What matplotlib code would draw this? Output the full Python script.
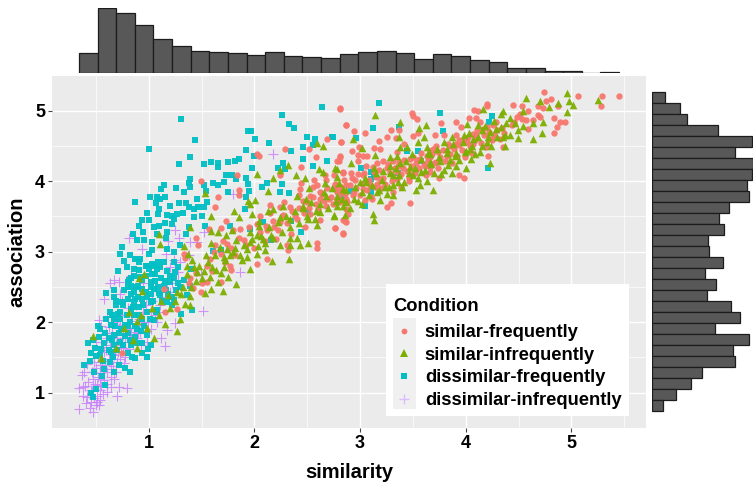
#!/usr/bin/env python3
"""Similarity vs association scatter with marginal histograms."""

import numpy as np
import matplotlib
matplotlib.use("Agg")
import matplotlib.pyplot as plt
from matplotlib.lines import Line2D
from matplotlib.patches import Rectangle

plt.rcParams["font.family"] = ["Liberation Sans", "DejaVu Sans"]

# ── Data ────────────────────────────────────────────────────────
teal_pts = [
    (1.31,4.88),(1.00,4.45),(1.44,4.58),(2.26,4.94),(2.64,5.05),(2.33,4.81),(2.37,4.75),(1.94,4.71),
    (1.97,4.71),(2.01,4.59),(2.14,4.54),(1.92,4.44),(2.00,4.35),(2.35,4.43),(2.50,4.62),(2.57,4.60),
    (2.73,4.62),(2.55,4.51),(2.46,4.48),(2.46,4.31),(2.69,4.29),(2.55,4.21),(1.39,4.34),(1.29,4.24),
    (1.52,4.24),(1.59,4.27),(1.66,4.26),(1.66,4.20),(1.75,4.27),(1.82,4.28),(1.85,4.31),(1.98,4.19),
    (2.27,4.26),(2.22,4.19),(2.29,4.17),(1.39,4.03),(1.14,3.94),(1.12,3.89),(1.26,3.90),(1.38,3.98),
    (1.39,3.91),(1.33,3.84),(1.52,3.94),(1.54,3.86),(1.61,3.98),(1.66,3.95),(1.71,3.99),(1.73,4.09),
    (1.79,4.08),(1.83,4.03),(1.92,4.05),(1.94,3.96),(2.12,3.98),(2.07,3.91),(2.26,3.96),(2.24,3.84),
    (2.33,3.83),(1.95,3.86),(1.75,3.84),(1.92,3.78),(0.87,3.71),(1.01,3.78),(1.08,3.78),(1.15,3.78),
    (1.07,3.69),(1.11,3.75),(1.46,3.75),(1.55,3.70),(1.29,3.69),(1.35,3.69),(1.38,3.63),(1.43,3.60),
    (1.52,3.63),(1.47,3.64),(1.10,3.60),(1.09,3.53),(1.17,3.52),(1.22,3.50),(1.27,3.53),(1.24,3.46),
    (1.43,3.49),(1.50,3.50),(0.94,3.45),(1.00,3.45),(0.91,3.37),(1.22,3.39),(1.10,3.37),(1.15,3.41),
    (1.38,3.35),(1.53,3.37),(0.95,3.28),(0.85,3.25),(1.08,3.25),(1.17,3.28),(0.89,3.17),(0.96,3.17),
    (1.03,3.14),(1.16,3.19),(0.75,3.07),(0.73,2.97),(1.03,3.02),(1.00,2.97),(1.17,3.04),(1.24,2.99),
    (1.61,3.01),(1.68,3.02),(1.77,3.37),(1.91,3.60),(1.96,3.32),(2.08,3.42),(2.16,3.16),(2.35,3.44),
    (2.44,3.28),(2.51,3.56),(0.82,2.95),(0.87,2.90),(0.91,2.85),(0.77,2.87),(0.79,2.78),(0.71,2.72),
    (0.97,2.80),(1.03,2.83),(1.09,2.85),(1.11,2.78),(1.24,2.85),(1.25,2.71),(1.06,2.69),(0.91,2.74),
    (0.83,2.62),(0.80,2.57),(0.90,2.52),(0.67,2.45),(0.60,2.42),(0.67,2.36),(0.80,2.50),(0.86,2.43),
    (0.94,2.47),(1.02,2.40),(1.09,2.50),(1.14,2.52),(1.20,2.57),(1.28,2.55),(1.39,2.52),(0.80,2.33),
    (0.86,2.29),(0.94,2.33),(1.02,2.29),(1.11,2.38),(1.17,2.29),(1.24,2.31),(0.69,2.24),(0.76,2.24),
    (0.83,2.19),(0.91,2.22),(0.98,2.14),(1.08,2.17),(1.22,2.24),(1.31,2.11),(1.41,2.17),(0.65,2.10),
    (0.73,2.05),(0.82,2.00),(0.94,2.05),(1.05,2.03),(0.64,1.96),(0.54,1.90),(0.67,1.82),(0.80,1.84),
    (0.89,1.91),(0.98,1.82),(0.53,1.79),(0.43,1.70),(0.49,1.63),(0.58,1.70),(0.73,1.72),(0.83,1.67),
    (0.94,1.70),(1.02,1.68),(0.45,1.56),(0.54,1.53),(0.64,1.58),(0.80,1.56),(0.94,1.56),(0.98,1.51),
    (0.87,1.49),(0.39,1.39),(0.48,1.29),(0.56,1.24),(0.67,1.30),(0.78,1.35),(0.82,1.29),(0.59,1.11),
    (0.50,1.05),(0.45,0.99),(0.47,0.94),(0.86,2.66),(0.92,2.64),(1.02,2.57),(1.05,2.47),(1.16,2.45),
    (0.83,2.52),(0.87,2.33),(0.97,2.43),(0.73,2.14),(0.67,2.05),(0.78,1.96),(0.86,2.10),(0.72,1.84),
    (0.62,1.77),(0.87,1.79),(0.67,1.67),(0.58,1.34),(0.63,1.44),(0.98,2.80),(1.05,2.80),(1.14,2.85),
    (3.18,5.11),(3.12,4.75),(2.74,4.62),(2.96,4.61),(3.37,4.76),(3.76,4.96),(3.78,4.71),(4.25,4.92),
    (4.22,4.84),(3.44,4.42),(3.55,4.42),(3.58,4.29),(3.01,4.19),(3.10,4.13),(3.10,4.03),(3.13,4.06),
    (3.36,4.11),(4.21,4.18),(2.76,3.89),(2.91,3.86),(2.84,3.79),(3.10,3.84),(3.05,3.65),
]
teal_core = [
    (0.44,1.45),(0.47,1.75),(0.50,1.52),(0.52,1.95),(0.55,1.62),(0.57,1.45),(0.59,1.85),(0.60,2.05),
    (0.62,1.60),(0.63,2.15),(0.65,1.75),(0.66,1.50),(0.68,1.95),(0.69,2.30),(0.70,1.60),(0.71,2.12),
    (0.72,1.40),(0.74,1.90),(0.75,2.28),(0.76,1.68),(0.77,2.45),(0.78,1.80),(0.79,2.10),(0.80,1.95),
    (0.81,2.60),(0.82,1.75),(0.83,2.40),(0.84,1.50),(0.85,2.22),(0.86,2.75),(0.87,1.95),(0.88,2.50),
    (0.89,1.70),(0.90,2.35),(0.91,2.10),(0.92,2.90),(0.93,1.88),(0.94,2.60),(0.95,2.25),(0.96,1.95),
    (0.97,2.65),(0.98,2.35),(0.99,1.62),(1.00,2.75),(1.01,2.05),(1.02,2.50),(1.03,2.68),(1.04,2.30),
    (1.06,2.58),(1.07,2.15),(1.08,2.75),(1.10,2.42),(1.12,2.62),(1.13,2.30),(1.15,2.58),(1.17,2.72),
    (1.18,2.40),(1.20,2.65),(1.22,2.35),(1.24,2.62),(1.26,2.45),(1.28,2.78),(1.30,2.50),(1.33,2.60),
    (1.36,2.38),(1.40,2.75),(1.30,3.10),(1.35,3.25),(1.05,3.35),(0.98,3.55),(1.20,3.65),(1.32,3.55),
]
green_pts = [
    (0.47,1.81),(0.77,1.92),(0.98,1.92),(1.05,1.78),(1.15,1.98),(1.27,1.88),(1.30,2.05),(0.89,2.01),
    (0.81,2.14),(0.89,1.64),(0.69,1.64),(0.55,1.49),(1.12,2.30),(1.34,2.26),(1.39,2.24),(1.39,2.37),
    (1.31,2.40),(1.27,2.43),(1.18,2.39),(0.91,2.63),(0.96,2.68),(0.94,2.44),(1.59,2.47),(1.70,2.44),
    (1.53,2.42),(1.83,2.54),(1.75,2.64),(1.66,2.57),(1.64,2.74),(1.71,2.78),(1.58,2.64),(1.50,2.62),
    (1.46,2.71),(1.36,2.69),(1.43,2.78),(1.36,2.80),(1.41,2.88),(1.33,3.08),(1.37,2.96),(1.54,2.95),
    (1.59,3.12),(1.67,3.06),(1.71,2.92),(1.74,3.04),(1.80,3.00),(1.96,2.76),(1.88,2.88),(1.93,3.04),
    (2.02,2.97),(1.96,3.13),(1.83,3.16),(1.73,3.24),(1.79,3.31),(1.59,3.29),(1.66,3.28),(1.39,3.35),
    (1.10,3.25),(1.11,3.11),(1.53,3.83),(1.59,3.51),(1.85,3.49),(1.94,3.72),(2.02,4.10),(1.81,3.57),
    (1.96,3.67),(2.01,3.73),(1.98,3.53),(2.04,3.44),(2.04,3.37),(1.96,3.28),(2.02,3.23),(2.10,3.02),
    (2.08,3.18),(2.16,3.23),(2.24,3.09),(2.33,2.89),(2.17,2.87),(2.34,3.09),(2.43,3.09),(2.51,3.12),
    (2.40,3.20),(2.34,3.20),(2.24,3.49),(2.34,3.46),(2.18,3.61),(2.27,3.65),(2.13,3.58),(2.13,3.86),
    (2.18,4.05),(2.24,4.16),(2.32,4.23),(2.39,4.09),(2.48,4.05),(2.61,4.17),(2.65,4.13),(2.78,4.17),
    (2.67,3.98),(2.52,3.90),(2.40,3.79),(2.49,3.75),(2.46,3.65),(2.59,3.38),(2.57,3.46),(2.51,3.46),
    (2.62,3.56),(2.75,3.51),(2.78,3.65),(2.87,3.70),(2.84,3.89),(2.68,3.79),(2.78,3.79),(2.65,4.50),
    (2.59,4.54),(3.14,4.94),(3.38,4.84),(3.62,4.80),(3.56,4.75),(3.60,4.62),(3.37,4.62),(2.93,4.60),
    (3.02,4.47),(3.14,4.37),(3.28,4.34),(3.38,4.48),(3.44,4.48),(3.55,4.55),(3.63,4.48),(3.79,4.55),
    (3.87,4.62),(3.90,4.36),(4.04,4.46),(3.99,4.41),(4.01,4.81),(4.12,4.80),(4.16,5.02),(4.35,5.00),
    (4.33,4.95),(4.57,5.18),(4.70,5.13),(4.79,5.05),(4.87,5.11),(4.96,5.25),(4.98,5.13),(5.01,5.08),
    (5.25,5.15),(4.96,4.98),(4.54,5.00),(4.38,4.83),(4.54,4.78),(4.64,4.83),(4.73,4.84),(4.49,4.72),
    (4.49,4.61),(4.42,4.65),(4.64,4.59),(4.72,4.68),(4.29,4.74),(4.23,4.69),(4.15,4.72),(4.20,4.55),
    (4.35,4.62),(4.37,4.50),(4.13,4.41),(4.05,4.32),(4.00,4.18),(4.23,4.26),(3.87,4.12),(3.77,4.10),
    (3.83,4.23),(3.91,4.22),(3.69,3.87),(3.63,4.00),(3.57,3.95),(3.53,3.87),(3.50,4.08),(3.58,4.13),
    (3.42,3.99),(3.36,3.99),(3.27,3.92),(3.25,3.82),(3.31,4.08),(3.22,4.15),(3.28,4.22),(3.38,4.25),
    (3.16,3.84),(3.19,3.73),(3.31,3.80),(3.12,3.54),(3.13,3.45),(3.02,3.67),(2.94,3.75),(2.84,3.65),
    (2.75,3.52),(2.86,3.52),(2.78,4.06),(2.91,4.25),(3.00,3.99),(3.06,3.99),(2.76,4.18),(3.13,4.18),
    (3.35,4.36),(3.47,4.20),(3.66,4.27),(3.75,4.34),(3.82,4.46),(3.66,4.39),(4.07,4.60),(3.98,4.65),
]
green_core = [
    (0.85,1.75),(0.93,2.10),(1.03,2.20),(1.10,2.10),(1.20,2.20),(1.25,2.30),(1.32,2.50),(1.40,2.50),
    (1.45,2.58),(1.48,2.80),(1.52,2.72),(1.56,2.85),(1.60,2.78),(1.63,2.95),(1.68,2.70),(1.72,2.88),
    (1.77,2.95),(1.82,3.05),(1.86,2.95),(1.90,3.10),(1.93,2.92),(1.98,3.18),(2.03,3.08),(2.06,3.22),
    (2.10,3.12),(2.14,3.35),(2.18,3.20),(2.22,3.42),(2.26,3.28),(2.30,3.50),(2.34,3.35),(2.38,3.58),
    (2.42,3.40),(2.46,3.62),(2.50,3.50),(2.54,3.70),(2.58,3.58),(2.62,3.68),(2.66,3.85),(2.70,3.62),
    (2.73,3.90),(2.77,3.72),(2.80,3.98),(2.83,3.75),(2.87,3.88),(2.90,3.62),(2.95,3.92),(2.98,3.72),
    (3.02,3.85),(3.05,4.05),(3.08,3.80),(3.11,3.95),(3.15,4.12),(3.18,3.88),(3.21,4.02),(3.24,3.92),
    (3.28,4.12),(3.31,3.95),(3.34,4.18),(3.37,4.08),(3.40,3.92),(3.43,4.28),(3.46,4.12),(3.49,4.38),
    (3.52,4.18),(3.55,4.05),(3.58,4.32),(3.61,4.16),(3.64,4.40),(3.67,4.24),(3.70,4.12),(3.73,4.45),
    (3.76,4.28),(3.79,4.16),(3.82,4.40),(3.85,4.30),(3.88,4.52),(3.91,4.40),(3.94,4.30),(3.97,4.55),
    (4.00,4.42),(4.03,4.68),(4.06,4.50),(4.09,4.38),(4.12,4.62),(4.15,4.50),(4.18,4.78),(4.21,4.62),
    (4.24,4.50),(4.27,4.85),(4.30,4.62),(4.33,4.76),(4.37,4.66),(4.42,4.90),(4.47,4.82),
]
red_pts = [
    (4.74,5.26),(5.06,5.21),(5.29,5.20),(5.45,5.20),(5.28,5.06),(4.81,5.16),(4.76,5.13),(4.68,5.06),
    (4.73,5.03),(4.87,5.06),(4.45,5.08),(4.53,5.06),(4.20,5.09),(4.20,5.06),(4.08,5.01),(4.12,4.99),
    (4.59,4.99),(4.51,4.95),(4.48,4.91),(4.46,4.84),(4.53,4.88),(4.57,4.86),(4.68,4.94),(4.70,4.91),
    (4.64,4.87),(4.83,4.89),(4.89,4.84),(4.94,4.84),(4.86,4.76),(4.83,4.68),(4.59,4.74),(4.44,4.79),
    (4.29,4.84),(4.03,4.89),(4.10,4.90),(3.91,4.84),(4.13,4.84),(3.95,4.76),(2.81,5.03),(3.49,4.97),
    (3.50,4.93),(3.54,4.88),(3.77,4.82),(2.87,4.80),(2.94,4.71),(3.05,4.68),(3.29,4.73),(3.37,4.72),
    (3.55,4.68),(3.50,4.64),(3.25,4.62),(3.34,4.61),(3.18,4.57),(2.82,4.55),(2.99,4.48),(3.13,4.47),
    (3.19,4.45),(2.92,4.42),(2.98,4.37),(3.03,4.36),(3.07,4.35),(2.81,4.35),(2.80,4.28),(2.98,4.29),
    (3.16,4.25),(2.84,4.13),(2.91,4.12),(3.06,4.22),(3.22,4.29),(3.35,4.41),(3.42,4.53),(3.47,4.32),
    (3.66,4.43),(3.71,4.65),(3.79,4.65),(3.91,4.65),(3.98,4.58),(4.07,4.67),(4.20,4.76),(4.34,4.75),
    (4.35,4.48),(4.21,4.35),(4.23,4.60),(4.07,4.53),(3.94,4.51),(3.82,4.36),(3.66,4.34),(3.72,4.27),
    (3.61,4.22),(3.53,4.25),(3.31,4.29),(3.36,4.22),(3.25,4.18),(3.13,4.13),(3.03,4.08),(2.95,4.01),
    (2.87,3.94),(2.83,3.85),(2.81,3.70),(2.89,3.54),(2.84,3.45),(2.87,3.42),(2.76,3.34),(2.84,3.26),
    (3.25,3.63),(3.29,3.69),(3.47,3.69),(3.66,4.13),(3.75,4.04),(3.94,4.09),(3.98,4.05),(3.46,4.00),
    (3.31,3.85),(3.39,3.92),(3.11,3.75),(3.05,3.73),(3.03,3.89),(3.16,3.96),(3.47,4.10),(2.78,3.73),
    (3.69,4.46),(3.74,4.41),(3.63,4.36),(3.57,4.32),(4.01,4.55),(4.10,4.65),(4.16,4.74),(4.26,4.79),
    (3.91,4.53),(3.85,4.50),(3.41,4.18),(3.35,4.13),(3.19,4.03),(3.09,3.94),(2.94,3.85),(2.87,3.75),
    (2.76,3.89),(2.81,5.02),(2.87,4.79),(2.82,4.55),(2.69,4.59),(2.29,4.46),(2.02,4.38),(2.04,4.35),
    (2.52,4.46),(2.58,4.34),(2.81,4.34),(2.78,4.29),(2.84,4.12),(2.75,4.08),(2.44,4.20),(2.24,4.08),
    (2.44,3.98),(2.56,4.01),(2.67,4.08),(1.84,4.08),(1.49,4.00),(1.85,3.87),(1.85,3.80),(1.66,3.77),
    (1.63,3.63),(2.15,3.66),(2.24,3.63),(2.34,3.63),(2.43,3.89),(2.53,3.79),(2.62,3.84),(2.71,3.75),
    (2.81,3.84),(2.87,3.61),(2.68,3.65),(2.76,3.33),(2.84,3.25),(2.59,3.12),(2.59,3.05),(2.31,3.09),
    (2.32,3.02),(2.11,3.37),(2.19,3.35),(2.24,3.42),(2.40,3.46),(2.53,3.53),(2.86,3.43),(2.02,3.39),
    (1.86,3.32),(1.68,3.33),(1.57,3.32),(1.45,3.19),(1.47,3.09),(1.63,3.09),(1.74,3.11),(1.90,3.16),
    (1.73,3.44),(1.80,3.31),(2.12,2.90),(2.02,2.82),(1.77,2.80),(1.78,2.74),(1.68,2.96),(1.58,2.90),
    (1.33,2.97),(1.34,2.91),(1.39,2.62),(1.42,2.49),(1.49,2.43),(1.55,2.57),(1.38,2.55),(1.68,2.57),
    (1.15,2.14),(1.27,2.19),(0.75,1.56),(1.14,2.47),(2.62,3.75),(2.78,3.94),(2.59,3.94),(2.46,3.72),
]
red_core = [
    (2.05,3.28),(2.12,3.31),(2.18,3.44),(2.22,3.30),(2.27,3.52),(2.31,3.40),(2.36,3.58),(2.38,3.50),
    (2.42,3.62),(2.47,3.55),(2.50,3.70),(2.52,3.62),(2.55,3.78),(2.58,3.68),(2.60,3.60),(2.64,3.82),
    (2.66,3.72),(2.69,3.90),(2.72,3.78),(2.74,3.68),(2.76,3.96),(2.78,3.85),(2.80,3.76),(2.82,3.92),
    (2.85,4.02),(2.86,3.82),(2.88,3.70),(2.90,3.95),(2.92,4.05),(2.93,3.80),(2.96,3.90),(2.98,4.10),
    (3.00,3.80),(3.02,3.96),(3.04,4.12),(3.07,3.88),(3.08,4.02),(3.10,3.78),(3.12,4.20),(3.14,3.92),
    (3.15,4.06),(3.18,4.16),(3.20,3.90),(3.22,4.05),(3.24,3.96),(3.26,4.24),(3.28,4.12),(3.30,4.00),
    (3.33,4.18),(3.35,4.03),(3.37,4.27),(3.39,4.10),(3.42,4.30),(3.44,4.15),(3.46,4.04),(3.48,4.22),
    (3.50,4.34),(3.52,4.12),(3.54,4.30),(3.56,4.18),(3.58,4.40),(3.60,4.24),(3.62,4.08),(3.64,4.30),
    (3.66,4.20),(3.68,4.38),(3.70,4.26),(3.72,4.50),(3.74,4.18),(3.76,4.34),(3.78,4.44),(3.80,4.28),
    (3.83,4.52),(3.85,4.38),(3.87,4.25),(3.89,4.46),(3.92,4.36),(3.94,4.58),(3.96,4.44),(3.99,4.34),
    (4.02,4.62),(4.04,4.50),(4.06,4.40),(4.09,4.58),(4.11,4.72),(4.14,4.54),(4.17,4.66),(4.19,4.48),
    (4.22,4.70),(4.25,4.58),(4.27,4.66),(4.30,4.72),(4.32,4.60),(4.36,4.68),(1.55,2.80),(1.62,3.00),
    (1.70,3.15),(1.78,3.05),(1.85,3.20),(1.92,3.10),(1.95,3.35),(2.00,3.05),(2.05,3.50),(2.10,3.15),
    (2.15,3.55),(2.20,3.18),(2.28,3.70),(2.35,3.25),(2.42,3.80),(2.48,3.35),(2.55,3.92),(2.62,3.45),
    (2.68,4.02),(1.45,2.70),(1.50,2.55),(1.60,2.72),(1.72,2.85),(1.82,2.95),
]
purple_pts = [
    (0.34,0.77),(0.47,0.73),(0.51,0.87),(0.54,0.90),(0.42,0.94),(0.38,1.08),(0.34,1.07),(0.70,0.96),
    (0.79,1.07),(0.72,1.08),(0.67,1.20),(0.39,1.30),(0.37,1.25),(0.47,1.20),(0.54,1.20),(0.64,1.34),
    (0.48,1.44),(0.42,1.41),(0.58,1.58),(0.69,1.67),(0.76,1.63),(0.83,1.86),(0.62,1.93),(0.53,2.03),
    (0.70,2.05),(0.83,2.10),(0.61,2.07),(0.73,1.96),(0.89,1.96),(1.02,1.91),(1.08,2.00),(1.17,1.89),
    (1.25,1.99),(1.12,1.77),(1.15,1.66),(1.51,2.16),(0.58,2.33),(0.63,2.55),(0.72,2.57),(0.73,2.40),
    (0.83,2.66),(0.81,3.20),(0.94,3.04),(1.25,3.30),(1.29,3.20),(1.52,3.28),(1.39,3.13),(1.46,3.13),
    (1.16,2.97),(1.24,2.88),(1.20,2.78),(1.28,2.71),(1.49,2.69),(1.86,2.71),(1.80,3.82),(2.18,4.39),
    (1.02,2.14),(1.11,2.24),(0.95,2.14),(1.20,2.43),(1.11,2.43),(0.98,1.72),(0.89,1.77),(0.70,1.44),
    (0.61,1.30),(0.51,1.11),(0.45,1.04),(0.54,1.04),(0.64,1.08),(0.45,0.87),(0.50,0.83),(0.61,1.01),
    (0.54,1.39),(0.73,1.72),(0.81,1.82),(0.92,1.86),(0.61,1.77),(0.67,1.53),(0.78,1.51),
]
purple_core = [
    (0.38,0.95),(0.40,1.10),(0.41,0.85),(0.43,1.15),(0.44,0.78),(0.46,1.02),(0.46,1.30),(0.48,0.92),
    (0.49,1.12),(0.50,1.35),(0.51,0.95),(0.52,1.22),(0.52,1.50),(0.53,0.82),(0.54,1.28),(0.55,1.10),
    (0.56,1.45),(0.56,1.65),(0.57,0.98),(0.58,1.18),(0.59,1.40),(0.60,1.60),(0.60,1.85),(0.61,1.12),
    (0.62,1.48),(0.63,1.68),(0.64,1.22),(0.65,1.55),(0.65,1.85),(0.66,1.38),(0.67,2.00),(0.68,1.62),
    (0.69,1.30),(0.70,1.78),(0.71,1.58),(0.72,1.92),(0.73,1.48),(0.74,1.65),(0.75,2.10),(0.76,1.82),
    (0.77,1.42),(0.78,1.72),(0.79,1.90),(0.80,2.20),(0.81,1.62),(0.82,1.78),(0.84,2.02),(0.85,1.70),
    (0.86,1.92),(0.88,2.25),(0.90,1.85),(0.91,2.05),(0.93,1.68),(0.95,2.00),(0.97,2.25),(0.99,2.00),
    (1.03,2.30),(1.06,2.10),(1.10,2.15),(1.13,2.35),(1.17,2.55),(1.22,2.55),(1.28,2.60),(1.30,2.85),
    (1.38,2.95),(1.18,3.15),(0.95,2.55),(0.75,2.30),(0.67,2.60),(0.55,1.95),(0.50,1.72),
]

top_counts = [60,193,178,143,100,81,65,61,59,52,63,50,48,46,56,62,65,58,42,56,50,38,34,16,16,7,6,1,3]
# listed from the top bin down
right_counts = [40,85,106,197,298,248,302,298,283,289,229,199,215,168,171,211,157,191,164,235,262,188,289,242,247,149,118,73,32]

labels = ["similar-frequently", "similar-infrequently", "dissimilar-frequently", "dissimilar-infrequently"]
colors = ["#F8766D", "#7CAE00", "#00BFC4", "#C77CFF"]
x_ticks = [1, 2, 3, 4, 5]
y_ticks = [1, 2, 3, 4, 5]

W, H = 753, 483


def px_axes(left, top, right, bottom):
    """Axes placed by pixel box, y counted from the top of the image."""
    return fig.add_axes([left / W, 1 - bottom / H, (right - left) / W, (bottom - top) / H])


fig = plt.figure(figsize=(W / 100, H / 100), dpi=100)

# ── Main panel ──────────────────────────────────────────────────
ax = px_axes(52, 76, 646, 428)
ax.set_facecolor("#EBEBEB")
ax.set_xlim(0.085, 5.705)
ax.set_ylim(0.50, 5.49)
ax.set_axisbelow(True)
for s in ax.spines.values():
    s.set_visible(False)

ax.set_xticks(x_ticks)
ax.set_yticks(y_ticks)
ax.set_xticks([0.5, 1.5, 2.5, 3.5, 4.5, 5.5], minor=True)
ax.set_yticks([0.5, 1.5, 2.5, 3.5, 4.5], minor=True)
ax.grid(True, which="major", color="white", linewidth=1.0)
ax.grid(True, which="minor", color="white", linewidth=0.5)
ax.tick_params(which="minor", length=0)
ax.tick_params(which="major", length=3, width=0.8, color="#444444", labelsize=13, pad=2)
for t in ax.get_xticklabels() + ax.get_yticklabels():
    t.set_fontweight("bold")
ax.set_xlabel("similarity", fontsize=14.5, fontweight="bold", labelpad=8)
ax.set_ylabel("association", fontsize=14.5, fontweight="bold", labelpad=6)

pts = np.array(purple_pts + purple_core).T
ax.scatter(pts[0], pts[1], marker="+", s=42, linewidths=0.8, color=colors[3], alpha=0.8, zorder=2)
pts = np.array(teal_pts + teal_core).T
ax.scatter(pts[0], pts[1], marker="s", s=24, linewidths=0, color=colors[2], alpha=0.95, zorder=3)
pts = np.array(red_pts + red_core).T
ax.scatter(pts[0], pts[1], marker="o", s=21, linewidths=0, color=colors[0], alpha=0.95, zorder=4)
pts = np.array(green_pts + green_core).T
ax.scatter(pts[0], pts[1], marker="^", s=30, linewidths=0, color=colors[1], alpha=0.95, zorder=5)

# ── Legend ──────────────────────────────────────────────────────
ax.add_patch(Rectangle((386 / W, 1 - 416 / H), 243 / W, 132 / H, transform=fig.transFigure,
                       facecolor="white", edgecolor="none", zorder=6))
ax.add_patch(Rectangle((393 / W, 1 - 409 / H), 23 / W, 91 / H, transform=fig.transFigure,
                       facecolor="#F0F0F0", edgecolor="none", zorder=6))
handles = [
    Line2D([], [], linestyle="none", marker="o", markersize=4.2, markeredgewidth=0, color=colors[0]),
    Line2D([], [], linestyle="none", marker="^", markersize=5.4, markeredgewidth=0, color=colors[1]),
    Line2D([], [], linestyle="none", marker="s", markersize=4.2, markeredgewidth=0, color=colors[2]),
    Line2D([], [], linestyle="none", marker="+", markersize=7, markeredgewidth=1.0, color="#DDBBFF"),
]
leg = ax.legend(handles, labels, title="Condition", frameon=False, loc="lower left",
                bbox_to_anchor=(386 / W, 1 - 416 / H), bbox_transform=fig.transFigure,
                prop={"size": 13.2, "weight": "bold"}, title_fontproperties={"size": 13.2, "weight": "bold"},
                alignment="left", labelspacing=0.305, handletextpad=0.49, handlelength=1.25,
                borderaxespad=0, borderpad=0.38, markerscale=1)
leg.set_zorder(7)
leg._legend_box.sep = 7

# ── Top histogram ───────────────────────────────────────────────
ax_top = px_axes(52, 8, 646, 73)
x_edges = np.linspace(0.34, 5.45, len(top_counts) + 1)
ax_top.bar(x_edges[:-1], top_counts, width=np.diff(x_edges), align="edge",
           facecolor="#585858", edgecolor="#1c1c1c", linewidth=0.9)
ax_top.set_xlim(0.085, 5.705)
ax_top.set_ylim(0, 193)
ax_top.axis("off")

# ── Right histogram ─────────────────────────────────────────────
ax_right = px_axes(652, 76, 753, 428)
y_edges = np.linspace(5.26, 0.74, len(right_counts) + 1)
ax_right.barh(y_edges[:-1], right_counts, height=np.diff(y_edges), align="edge",
              facecolor="#585858", edgecolor="#1c1c1c", linewidth=0.9)
ax_right.set_xlim(0, 302)
ax_right.set_ylim(0.50, 5.49)
ax_right.axis("off")

fig.savefig("out.png", dpi=100, facecolor="white")
